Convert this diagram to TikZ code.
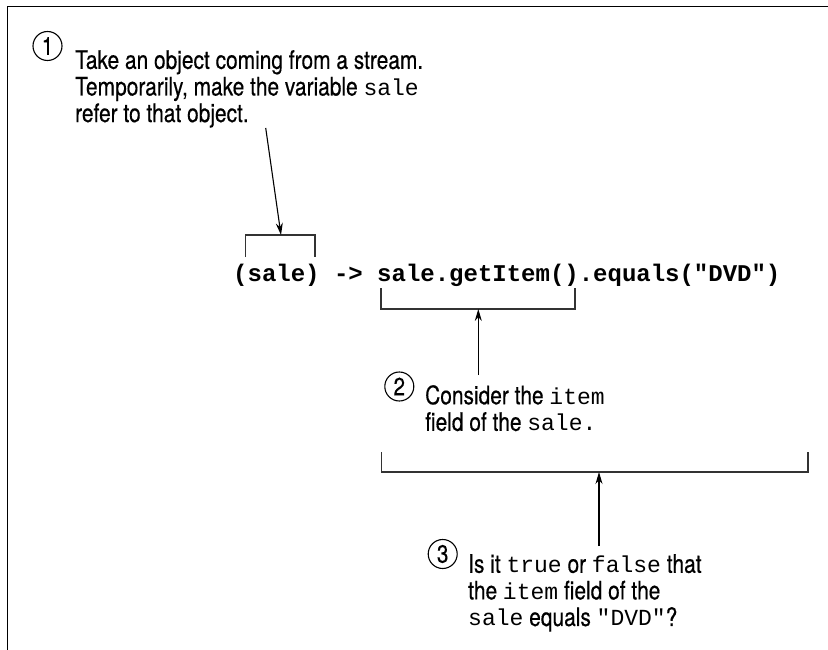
\documentclass[tikz,border=0pt]{standalone}
\usepackage{fontspec}
\setmainfont{TeX Gyre Heros}[FakeStretch=0.82, FakeBold=0.4]
\setmonofont{Liberation Mono}
\usetikzlibrary{arrows.meta}
\newcommand{\mono}[1]{{\ttfamily\fontsize{23}{26.6}\selectfont #1}}

\begin{document}
\begin{tikzpicture}[
    x=1pt, y=-1pt,
    every node/.style={font=\fontsize{25.5}{26.6}\selectfont},
    num/.style={
        circle, draw, line width=1.1pt, minimum size=29pt, inner sep=0pt,
        font=\fontsize{25}{25}\selectfont,
    },
    note/.style={anchor=north west, inner sep=0pt, align=left},
    code/.style={
        anchor=base west, inner sep=0pt,
        font=\fontsize{24}{24}\selectfont\ttfamily\bfseries,
    },
    brk/.style={line width=1.2pt, color=black!80},
    arr/.style={-{Stealth[length=12pt, width=7pt]}, line width=1.1pt},
]
\useasboundingbox (0,0) rectangle (828,650);

% frame
\draw[line width=1.5pt] (828,6.5) -- (7.5,6.5) -- (7.5,650);

% ================================================ the expression
\node[code] (expr) at (233,281) {(sale) -> sale.getItem().equals("DVD")};

% brackets
\draw[brk] (245.7,257) |- (315,235) -- (315,257);
\coordinate (b1) at (281,235);
\draw[brk] (381,288) |- (575,309) -- (575,288);
\coordinate (b2) at (478.3,309);
\draw[brk] (381.7,452) |- (808,472) -- (808,452);
\coordinate (b3) at (599,472);

% ================================================ step 1
\node[num] (n1) at (47.5,46) {1};
\node[note] (t1) at (75,50)
    {Take an object coming from a stream.\\
     Temporarily, make the variable \mono{sale}\\
     refer to that object.};
\coordinate (a1) at (265.7,128);
\draw[arr] (a1) -- (b1);

% ================================================ step 2
\node[num] (n2) at (399.3,386.5) {2};
\node[note] (t2) at (425,385)
    {Consider the \mono{item}\\
     field of the \mono{sale.}};
\coordinate (a2) at (478.3,375);
\draw[arr] (a2) -- (b2);

% ================================================ step 3
\node[num] (n3) at (442.7,554) {3};
\node[note] (t3) at (468,554)
    {Is it \mono{true} or \mono{false} that\\
     the \mono{item} field of the\\
     \mono{sale} equals \mono{"DVD"}?};
\coordinate (a3) at (599,546);
\draw[arr] (a3) -- (b3);

\end{tikzpicture}
\end{document}
